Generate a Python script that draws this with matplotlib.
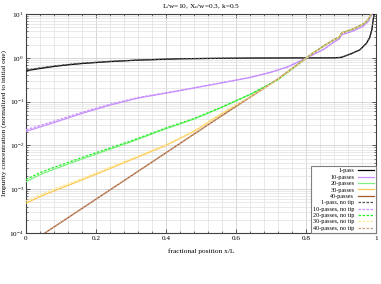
"""
plot.py - multi-pass zone refining impurity profiles (with / without tip).
"""

import numpy as np
import matplotlib
matplotlib.use("Agg")
import matplotlib.pyplot as plt
from matplotlib.ticker import LogLocator, MultipleLocator, NullFormatter

plt.rcParams["font.family"] = ["Liberation Serif", "DejaVu Serif"]
plt.rcParams["mathtext.fontset"] = "custom"
plt.rcParams["mathtext.rm"] = "Liberation Serif"
plt.rcParams["mathtext.it"] = "Liberation Serif:italic"
plt.rcParams["mathtext.default"] = "regular"

TITLE = "L/w=10, X$_c$/w=0.3, k=0.5"
XLABEL = "fractional position x/L"
YLABEL = "Impurity concentration (normalized to initial one)"
XTICKS = [0, 0.2, 0.4, 0.6, 0.8, 1]
XTICKLABELS = ["0", "0.2", "0.4", "0.6", "0.8", "1"]

# 1 pass
x_1 = [0.0, 0.04, 0.08, 0.12, 0.16, 0.24, 0.32, 0.44, 0.56, 0.64, 0.76, 0.88,
       0.90, 0.926, 0.954, 0.973, 0.982, 0.988, 0.992, 0.996]
c_1 = [0.507, 0.57, 0.635, 0.69, 0.74, 0.82, 0.885, 0.95, 0.975, 0.985, 0.995, 1.0,
       1.02, 1.21, 1.52, 2.16, 2.9, 4.3, 7.3, 12.0]
c_1_notip = [0.525, 0.59, 0.65, 0.705, 0.755, 0.83, 0.89, 0.952, 0.976, 0.986, 0.995, 1.0,
             1.02, 1.21, 1.52, 2.16, 2.9, 4.3, 7.3, 12.0]

# 10 passes
x_10 = [0.0, 0.04, 0.08, 0.12, 0.16, 0.24, 0.32, 0.44, 0.54, 0.64, 0.70, 0.75, 0.80,
        0.85, 0.88, 0.895, 0.902, 0.935, 0.964, 0.978, 0.99]
c_10 = [0.0209, 0.0263, 0.0331, 0.0422, 0.0537, 0.0832, 0.120, 0.178, 0.251, 0.355,
        0.468, 0.631, 0.977, 1.55, 2.3, 2.7, 3.35, 4.1, 5.3, 6.8, 10.5]
c_10_notip = [0.0228, 0.0285, 0.0357, 0.0452, 0.0570, 0.0870, 0.124, 0.181, 0.253, 0.357,
              0.47, 0.632, 0.977, 1.55, 2.3, 2.7, 3.35, 4.1, 5.3, 6.8, 10.5]

# tail shared by 20/30/40 passes (they coincide past x/L = 0.8)
x_tail = [0.82, 0.86, 0.88, 0.895, 0.902, 0.935, 0.964, 0.978, 0.988]
c_tail = [1.28, 2.08, 2.6, 2.95, 3.7, 4.55, 5.9, 7.5, 10.5]

# 20 passes
x_20 = [0.0, 0.04, 0.08, 0.14, 0.2, 0.3, 0.4, 0.48, 0.56, 0.64, 0.72, 0.8]
c_20 = [1.48e-3, 2.14e-3, 2.85e-3, 4.27e-3, 6.31e-3, 0.0120, 0.0240, 0.0398, 0.0741,
        0.145, 0.316, 0.977]
c_20_notip = [1.66e-3, 2.38e-3, 3.15e-3, 4.65e-3, 6.8e-3, 0.0127, 0.0250, 0.041, 0.0755,
              0.146, 0.317, 0.977]

# 30 passes
x_30 = [0.0, 0.04, 0.08, 0.14, 0.2, 0.3, 0.4, 0.48, 0.56, 0.64, 0.72, 0.8]
c_30 = [4.79e-4, 6.76e-4, 9.12e-4, 1.41e-3, 2.19e-3, 4.68e-3, 0.0100, 0.0209, 0.0537,
        0.126, 0.324, 0.977]
c_30_notip = [5.4e-4, 7.5e-4, 1.0e-3, 1.53e-3, 2.35e-3, 4.95e-3, 0.0104, 0.0215, 0.0545,
              0.127, 0.324, 0.977]

# 40 passes
x_40 = [0.0, 0.054, 0.3, 0.545, 0.72, 0.8]
c_40 = [5.0e-5, 1.0e-4, 2.0e-3, 0.040, 0.33, 0.977]
c_40_notip = [5.0e-5, 1.0e-4, 2.0e-3, 0.040, 0.33, 0.977]

LABELS = ["1-pass", "10-passes", "20-passes", "30-passes", "40-passes"]
COLORS = ["#000000", "#c890ff", "#80f080", "#ffc850", "#a85828"]
COLORS_NOTIP = ["#505050", "#c890ff", "#20f020", "#ffe890", "#c8a080"]


def series():
    xs = [x_1, x_10, x_20 + x_tail, x_30 + x_tail, x_40 + x_tail]
    solid = [c_1, c_10, c_20 + c_tail, c_30 + c_tail, c_40 + c_tail]
    notip = [c_1_notip, c_10_notip, c_20_notip + c_tail, c_30_notip + c_tail,
             c_40_notip + c_tail]
    return xs, solid, notip


fig = plt.figure(figsize=(3.81, 2.84), dpi=100)
ax = fig.add_axes([26 / 381, 1 - 233 / 284, 350 / 381, 219 / 284])

xs, solid, notip = series()
for x, c, lab, col in zip(xs, solid, LABELS, COLORS):
    ax.plot(x, c, color=col, lw=0.9, label=lab, zorder=3)
for x, c, lab, col in zip(xs, notip, LABELS, COLORS_NOTIP):
    ax.plot(x, c, color=col, lw=0.9, ls=(0, (2, 1.2)), label=lab + ", no tip", zorder=3)

ax.set_yscale("log")
ax.set_xlim(0, 1)
ax.set_ylim(1e-4, 10)
ax.set_xticks(XTICKS, XTICKLABELS)
ax.xaxis.set_minor_locator(MultipleLocator(0.04))
ax.yaxis.set_major_locator(LogLocator(base=10, numticks=10))
ax.yaxis.set_minor_locator(LogLocator(base=10, subs=np.arange(2, 10), numticks=20))
ax.yaxis.set_minor_formatter(NullFormatter())

ax.grid(True, which="major", color="#c8c8c8", lw=0.5)
ax.grid(True, which="minor", color="#e0e0e0", lw=0.5)
ax.set_axisbelow(True)
ax.tick_params(which="both", direction="in", top=True, right=True, labelsize=5.2,
               pad=1.5, color="#404040")
ax.tick_params(which="major", length=3, width=0.6)
ax.tick_params(which="minor", length=1.5, width=0.5)
ax.tick_params(axis="x", pad=2.5)
for s in ax.spines.values():
    s.set_color("#404040")
    s.set_linewidth(0.8)

ax.set_title(TITLE, fontsize=5.3, pad=4)
ax.set_xlabel(XLABEL, fontsize=5.3, labelpad=5)
ax.set_ylabel(YLABEL, fontsize=5.2)
# keep the rotated label inside the canvas, clear of the tick labels
ax.yaxis.set_label_coords(-0.054, 0.5)

leg = ax.legend(loc="lower right", fontsize=4.4, markerfirst=False, frameon=True,
                fancybox=False, edgecolor="#808080", framealpha=1,
                handlelength=2.6, handletextpad=0.6, labelspacing=0.18,
                borderpad=0.35, borderaxespad=0.0)
leg.get_frame().set_linewidth(0.8)

fig.savefig("out.png", dpi=100)
